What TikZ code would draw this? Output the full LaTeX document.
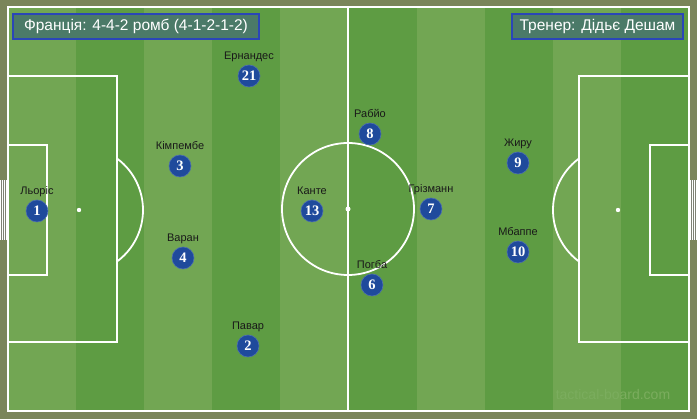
\documentclass[tikz,border=0pt]{standalone}
\usepackage{fontspec}
\setmainfont{Liberation Sans}
\newfontfamily\numfont{Liberation Serif}
\usetikzlibrary{positioning}
\definecolor{grasslight}{HTML}{72A653}
\definecolor{grassdark}{HTML}{5E9C43}
\definecolor{surround}{HTML}{7A855A}
\definecolor{shirt}{HTML}{1F4A9C}
\definecolor{boxfill}{HTML}{4B7A68}
\definecolor{boxline}{HTML}{2A46B8}
\definecolor{wmark}{HTML}{7BAD5E}
\tikzstyle{pitchline} = [draw=white, line width=1.8pt]
\tikzstyle{player} = [circle, fill=shirt, draw=shirt!80!white, line width=0.6pt, minimum size=22pt, inner sep=0pt, text=white, font=\numfont\bfseries\fontsize{14.5}{15}\selectfont]
\tikzstyle{plabel} = [inner sep=0pt, text height=8pt, text depth=2.5pt, text=black!90, font=\fontsize{11}{12}\selectfont]
\tikzstyle{infobox} = [fill=boxfill, draw=boxline, line width=1.2pt, text=white, inner sep=0pt, minimum height=25pt, font=\fontsize{15.5}{16}\selectfont]

\begin{document}
\begin{tikzpicture}[x=1pt, y=-1pt]
  \useasboundingbox (0,0) rectangle (697,419);
  \fill[surround] (0,0) rectangle (697,419);

  % stripes
  \foreach \i in {0,2,4,6,8}
    \fill[grasslight] ({8+68.1*\i},7) rectangle ({8+68.1*(\i+1)},411);
  \foreach \i in {1,3,5,7,9}
    \fill[grassdark] ({8+68.1*\i},7) rectangle ({8+68.1*(\i+1)},411);

  % goal nets
  \fill[gray!70!surround] (0,180) rectangle (7,240);
  \draw[white, line width=0.4pt, step=2] (0,180) grid (7,240);
  \fill[gray!70!surround] (690,180) rectangle (697,240);
  \draw[white, line width=0.4pt, step=2] (690,180) grid (697,240);

  % markings
  \draw[pitchline] (8,7) rectangle (689,411);
  \draw[pitchline] (348,7) -- (348,411);
  \draw[pitchline] (348,209) circle[radius=66];
  \draw[pitchline] (8,76) rectangle (117,342);
  \draw[pitchline] (8,145) rectangle (47,275);
  \draw[pitchline] (579,76) rectangle (689,342);
  \draw[pitchline] (650,145) rectangle (689,275);
  \draw[pitchline] (117,158.5) arc[start angle=-53.6, end angle=53.6, radius=64];
  \draw[pitchline] (579,158.5) arc[start angle=233.6, end angle=126.4, radius=64];
  \fill[white] (79,210) circle[radius=2.2];
  \fill[white] (348,209) circle[radius=2.5];
  \fill[white] (618,210) circle[radius=2.2];

  % titles
  \node[infobox, minimum width=246pt] (title) at (136,26.5) {Франція: 4-4-2 ромб (4-1-2-1-2)};
  \node[infobox, minimum width=171pt] (coach) at (597.5,26.5) {Тренер: Дідьє Дешам};

  % goalkeeper
  \node[player] (p1) at (37,211) {1};
  \node[plabel, above=2pt of p1] (n1) {Льоріс};

  % defence
  \node[player] (p21) at (249,76) {21};
  \node[plabel, above=2pt of p21] (n21) {Ернандес};
  \node[player] (p3) at (180,166) {3};
  \node[plabel, above=2pt of p3] (n3) {Кімпембе};
  \node[player] (p4) at (183,258) {4};
  \node[plabel, above=2pt of p4] (n4) {Варан};
  \node[player] (p2) at (248,346) {2};
  \node[plabel, above=2pt of p2] (n2) {Павар};

  % midfield
  \node[player] (p13) at (312,211) {13};
  \node[plabel, above=2pt of p13] (n13) {Канте};
  \node[player] (p8) at (370,134) {8};
  \node[plabel, above=2pt of p8] (n8) {Рабйо};
  \node[player] (p6) at (372,285) {6};
  \node[plabel, above=2pt of p6] (n6) {Погба};
  \node[player] (p7) at (431,209) {7};
  \node[plabel, above=2pt of p7] (n7) {Грізманн};

  % attack
  \node[player] (p9) at (518,163) {9};
  \node[plabel, above=2pt of p9] (n9) {Жиру};
  \node[player] (p10) at (518,252) {10};
  \node[plabel, above=2pt of p10] (n10) {Мбаппе};

  \node[text=wmark, font=\fontsize{14}{15}\selectfont] (wm) at (613,394) {tactical-board.com};
\end{tikzpicture}
\end{document}
